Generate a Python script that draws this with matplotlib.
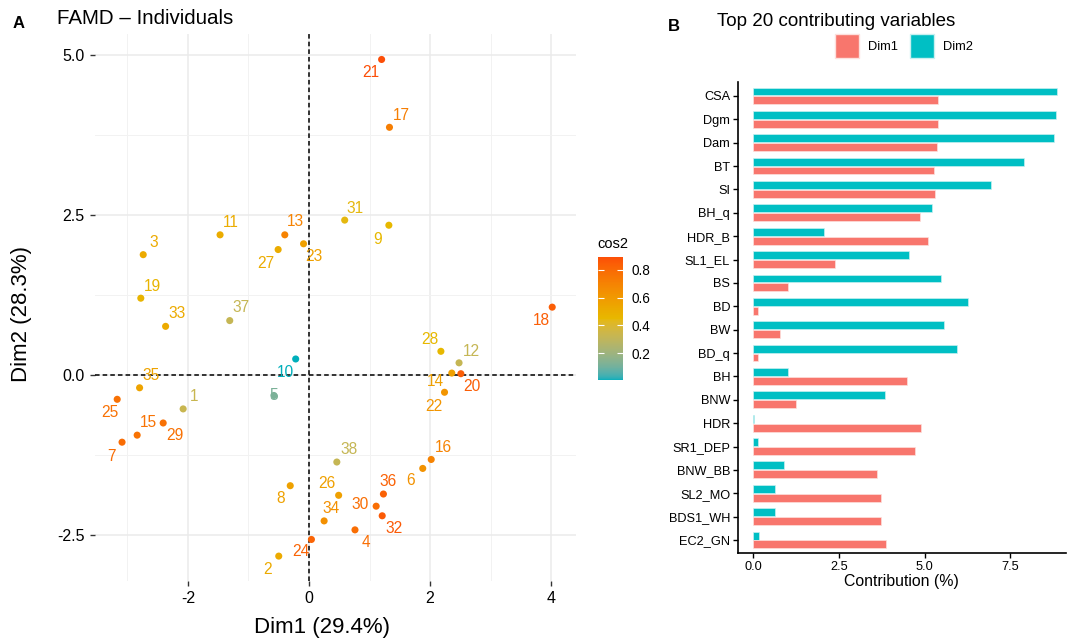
import matplotlib
matplotlib.use("Agg")
import matplotlib.pyplot as plt
from matplotlib.colors import ListedColormap, Normalize
from matplotlib.patches import Patch
import numpy as np

plt.rcParams['font.family'] = ['Liberation Sans', 'DejaVu Sans']
plt.rcParams['axes.unicode_minus'] = False

# ---------------- data: individuals (panel A) ----------------
ind_ids = [str(i) for i in range(1, 39)]
dim1 = [-2.08, -0.50, -2.74, 0.76, -0.58, 1.88, -3.09, -0.31, 1.32, -0.22,
        -1.47, 2.48, -0.40, 2.36, -2.84, 2.02, 1.33, 4.02, -2.78, 2.51,
        1.20, 2.24, -0.09, 0.04, -3.17, 0.49, -0.51, 2.18, -2.41, 1.11,
        0.59, 1.21, -2.37, 0.25, -2.80, 1.23, -1.31, 0.46]
dim2 = [-0.53, -2.83, 1.88, -2.42, -0.32, -1.46, -1.05, -1.73, 2.34, 0.25,
        2.19, 0.19, 2.19, 0.03, -0.94, -1.32, 3.87, 1.06, 1.20, 0.02,
        4.93, -0.27, 2.05, -2.57, -0.38, -1.88, 1.96, 0.37, -0.75, -2.05,
        2.42, -2.20, 0.76, -2.28, -0.20, -1.86, 0.85, -1.36]
cos2 = [0.33, 0.52, 0.52, 0.78, 0.12, 0.63, 0.79, 0.56, 0.45, 0.01,
        0.51, 0.32, 0.70, 0.57, 0.76, 0.70, 0.72, 0.84, 0.47, 0.84,
        0.89, 0.62, 0.57, 0.82, 0.77, 0.57, 0.51, 0.45, 0.77, 0.78,
        0.44, 0.85, 0.52, 0.64, 0.55, 0.83, 0.32, 0.32]
# label offsets (pixels, right / up) mimicking ggrepel placement
label_dx = [11, -11, 11, 11, 0, -12, -11, -10, -11, -10,
            11, 12, 11, -16, 11, 12, 12, -11, 12, 11,
            -11, -11, 10, -11, -7, -12, -12, -11, 12, -16,
            10, 12, 11, 7, 11, 5, 11, 12]
label_dy = [12, -13, 12, -13, 0, -12, -14, -13, -14, -14,
            12, 11, 13, -8, 13, 12, 12, -13, 12, -13,
            -13, -14, -13, -12, -13, 12, -14, 12, -13, 2,
            12, -13, 13, 12, 12, 13, 13, 13]

# ---------------- data: contributions (panel B) ----------------
variables = ["CSA", "Dgm", "Dam", "BT", "SI", "BH_q", "HDR_B", "SL1_EL", "BS", "BD",
             "BW", "BD_q", "BH", "BNW", "HDR", "SR1_DEP", "BNW_BB", "SL2_MO",
             "BDS1_WH", "EC2_GN"]
contrib_dim1 = [5.40, 5.38, 5.36, 5.29, 5.32, 4.88, 5.10, 2.40, 1.01, 0.15,
                0.79, 0.14, 4.48, 1.24, 4.89, 4.71, 3.61, 3.74, 3.74, 3.89]
contrib_dim2 = [8.86, 8.82, 8.78, 7.89, 6.94, 5.23, 2.07, 4.54, 5.48, 6.28,
                5.58, 5.94, 1.01, 3.84, 0.02, 0.14, 0.91, 0.65, 0.65, 0.17]

gradient_cols = ["#00AFBB", "#E7B800", "#FC4E07"]


# ---- Lab-space gradient (like ggplot2's scale_colour_gradientn) ----
def hex_to_rgb(h):
    h = h.lstrip("#")
    return np.array([int(h[i:i + 2], 16) / 255 for i in (0, 2, 4)])


M = np.array([[0.4124, 0.3576, 0.1805],
              [0.2126, 0.7152, 0.0722],
              [0.0193, 0.1192, 0.9505]])
Minv = np.linalg.inv(M)
WHITE = np.array([0.95047, 1.0, 1.08883])


def rgb_to_lab(rgb):
    lin = np.where(rgb <= 0.04045, rgb / 12.92, ((rgb + 0.055) / 1.055) ** 2.4)
    xyz = M @ lin / WHITE
    f = np.where(xyz > 0.008856, np.cbrt(xyz), 7.787 * xyz + 16 / 116)
    return np.array([116 * f[1] - 16, 500 * (f[0] - f[1]), 200 * (f[1] - f[2])])


def lab_to_rgb(lab):
    fy_ = (lab[0] + 16) / 116
    fx_ = fy_ + lab[1] / 500
    fz_ = fy_ - lab[2] / 200
    f = np.array([fx_, fy_, fz_])
    xyz = np.where(f ** 3 > 0.008856, f ** 3, (f - 16 / 116) / 7.787) * WHITE
    lin = Minv @ xyz
    lin = np.clip(lin, 0, 1)
    rgb = np.where(lin <= 0.0031308, 12.92 * lin, 1.055 * lin ** (1 / 2.4) - 0.055)
    return np.clip(rgb, 0, 1)


labs = [rgb_to_lab(hex_to_rgb(c)) for c in gradient_cols]
ramp = []
N = 256
for k in range(N):
    t = k / (N - 1) * (len(labs) - 1)
    i = min(int(t), len(labs) - 2)
    u = t - i
    ramp.append(lab_to_rgb(labs[i] * (1 - u) + labs[i + 1] * u))
cmap = ListedColormap(ramp)

W, H = 1067, 643
fig = plt.figure(figsize=(W / 100, H / 100), dpi=100)


def fx(px):
    return px / W


def fy(py):
    return 1 - py / H


# ---------------- Panel A ----------------
axA = fig.add_axes([fx(95), fy(581), fx(576) - fx(95), fy(34) - fy(581)])
norm = Normalize(vmin=min(cos2), vmax=max(cos2))

axA.set_xlim(-3.537, 4.413)
axA.set_ylim(-3.219, 5.328)
axA.set_xticks([-2, 0, 2, 4])
axA.set_xticks([-3, -1, 1, 3], minor=True)
axA.set_yticks([-2.5, 0, 2.5, 5.0])
axA.set_yticks([-1.25, 1.25, 3.75], minor=True)
axA.set_xticklabels(["-2", "0", "2", "4"])
axA.set_yticklabels(["-2.5", "0.0", "2.5", "5.0"])
axA.grid(which="major", color="#EBEBEB", linewidth=1.1)
axA.grid(which="minor", color="#F2F2F2", linewidth=0.7)
axA.set_axisbelow(True)
for s in axA.spines.values():
    s.set_visible(False)
axA.tick_params(which="major", length=3.5, width=1.0, color="#333333",
                labelsize=11.5, labelcolor="black", pad=4)
axA.tick_params(which="minor", length=0)
axA.axhline(0, color="black", linestyle=(0, (3, 2)), linewidth=1.1, zorder=2)
axA.axvline(0, color="black", linestyle=(0, (3, 2)), linewidth=1.1, zorder=2)

colors = cmap(norm(np.array(cos2)))
axA.scatter(dim1, dim2, c=cos2, cmap=cmap, norm=norm, s=26, linewidths=0, zorder=3)
for i, lab in enumerate(ind_ids):
    axA.annotate(lab, (dim1[i], dim2[i]), xytext=(label_dx[i], label_dy[i]),
                 textcoords="offset pixels", ha="center", va="center",
                 fontsize=11.2, color=colors[i], zorder=4)
axA.set_xlabel("Dim1 (29.4%)", fontsize=16)
axA.set_ylabel("Dim2 (28.3%)", fontsize=16)
axA.xaxis.set_label_coords(fx(322), fy(627), transform=fig.transFigure)
axA.yaxis.set_label_coords(fx(22), fy(314), transform=fig.transFigure)
axA.xaxis.label.set_va("center")
axA.yaxis.label.set_va("center")

# colorbar
cax = fig.add_axes([fx(598), fy(380), fx(623) - fx(598), fy(257) - fy(380)])
sm = plt.cm.ScalarMappable(norm=norm, cmap=cmap)
cb = fig.colorbar(sm, cax=cax, ticks=[0.2, 0.4, 0.6, 0.8])
cb.outline.set_visible(False)
cb.ax.tick_params(length=4, width=0.8, color="white", direction="in",
                  labelsize=9.8, pad=6, right=True, left=True)
cb.ax.set_yticklabels(["0.2", "0.4", "0.6", "0.8"])
fig.text(fx(597), fy(244), "cos2", fontsize=10.5, ha="left", va="center")

# titles A
fig.text(fx(13), fy(23), "A", fontsize=12, fontweight="bold", ha="left", va="center")
fig.text(fx(57), fy(18), "FAMD \u2013 Individuals", fontsize=14.8, ha="left", va="center")

# ---------------- Panel B ----------------
axB = fig.add_axes([fx(737.7), fy(553), fx(1066) - fx(737.7), fy(81.7) - fy(553)])
n = len(variables)
ypos = np.arange(n)[::-1]
bh = 0.34
axB.barh(ypos + 0.19, contrib_dim2, height=bh, color="#00BFC4",
         edgecolor="#C8F0F0", linewidth=0.5, label="Dim2")
axB.barh(ypos - 0.19, contrib_dim1, height=bh, color="#F8766D",
         edgecolor="#FDE0DD", linewidth=0.5, label="Dim1")
axB.set_yticks(ypos)
axB.set_yticklabels(variables)
axB.set_ylim(-0.556, n - 1 + 0.61)
axB.set_xlim(-0.446, 9.125)
axB.set_xticks([0, 2.5, 5.0, 7.5])
axB.set_xticklabels(["0.0", "2.5", "5.0", "7.5"])
axB.spines["top"].set_visible(False)
axB.spines["right"].set_visible(False)
axB.spines["left"].set_linewidth(1.2)
axB.spines["bottom"].set_linewidth(1.2)
axB.tick_params(axis="y", length=3.5, width=1.0, labelsize=9.2, pad=2)
axB.tick_params(axis="x", length=3.5, width=1.0, labelsize=9.2, pad=2)
axB.set_xlabel("Contribution (%)", fontsize=11.4, labelpad=1)

fig.text(fx(668), fy(26.5), "B", fontsize=12, fontweight="bold", ha="left", va="center")
fig.text(fx(716.7), fy(21), "Top 20 contributing variables", fontsize=13.5,
         ha="left", va="center")

handles = [Patch(facecolor="#F8766D", edgecolor="#FDE0DD", label="Dim1"),
           Patch(facecolor="#00BFC4", edgecolor="#C8F0F0", label="Dim2")]
fig.legend(handles=handles, loc="center", bbox_to_anchor=(fx(904), fy(46)),
           ncol=2, frameon=False, fontsize=9.3, handlelength=1.8,
           handleheight=2.4, handletextpad=0.7, columnspacing=1.0,
           borderaxespad=0, borderpad=0)

fig.savefig("out.png", dpi=100)
